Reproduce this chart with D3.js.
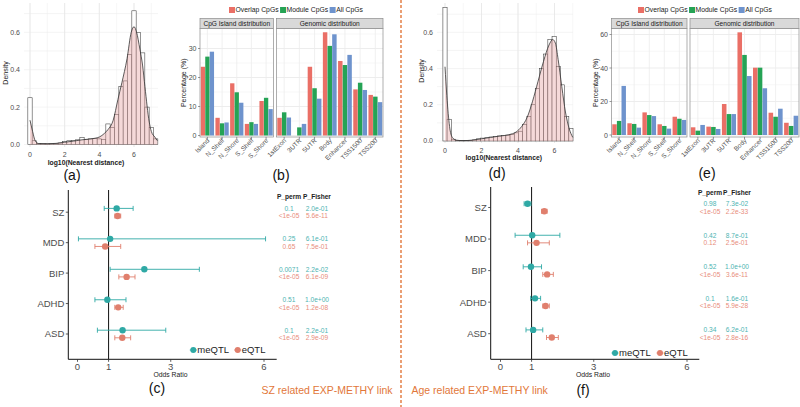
<!DOCTYPE html>
<html><head><meta charset="utf-8">
<script src="https://cdn.jsdelivr.net/npm/d3@7"></script>
<style>body{margin:0;background:#fff;} svg{display:block;font-family:"Liberation Sans",Arial,sans-serif;}</style>
</head><body><svg id="chart" width="800" height="407"></svg>
<script>
// ---------------- DATA ----------------
// (a) histogram of log10(nearest distance), SZ related
const histABinWidth = 0.25;
const histACenters = [0,0.25,0.5,0.75,1,1.25,1.5,1.75,2,2.25,2.5,2.75,3,3.25,3.5,3.75,4,4.25,4.5,4.75,5,5.25,5.5,5.75,6,6.25,6.5,6.75,7,7.25];
const histADensity = [0.25,0.02,0.006,0.005,0.004,0.004,0.005,0.008,0.015,0.02,0.022,0.025,0.037,0.028,0.03,0.032,0.03,0.027,0.11,0.09,0.16,0.31,0.34,0.48,0.715,0.60,0.49,0.20,0.09,0.03];
const kdeAx = [0,0.15,0.3,0.5,1,1.5,2,2.5,3,3.5,4,4.3,4.5,4.8,5.07,5.3,5.6,5.84,6.0,6.15,6.34,6.5,6.63,6.88,7.0,7.2,7.35];
const kdeAy = [0.13,0.07,0.02,0.005,0.004,0.006,0.012,0.018,0.025,0.03,0.04,0.06,0.08,0.13,0.24,0.33,0.46,0.6,0.63,0.6,0.51,0.42,0.31,0.12,0.07,0.04,0.02];
// (d) histogram, Age related
const histDBinWidth = 0.23;
const histDCenters = [0,0.23,0.46,0.69,0.92,1.15,1.38,1.61,1.84,2.07,2.3,2.53,2.76,2.99,3.22,3.45,3.68,3.91,4.14,4.37,4.6,4.83,5.06,5.29,5.52,5.75,5.98,6.21,6.44,6.67,6.9];
const histDDensity = [0.737,0.12,0.01,0.004,0.003,0.003,0.004,0.006,0.012,0.016,0.018,0.022,0.026,0.028,0.03,0.032,0.036,0.045,0.054,0.09,0.136,0.2,0.29,0.40,0.48,0.56,0.576,0.41,0.31,0.136,0.07];
const kdeDx = [0,0.1,0.25,0.4,0.6,1,1.5,2,2.5,3,3.5,3.9,4.2,4.5,4.8,5.1,5.4,5.7,5.9,6.05,6.2,6.4,6.6,6.8,7.0];
const kdeDy = [0.41,0.25,0.08,0.02,0.005,0.002,0.005,0.012,0.02,0.027,0.035,0.05,0.08,0.13,0.22,0.33,0.44,0.53,0.56,0.54,0.45,0.3,0.16,0.07,0.02];
const histTicksX = [0,2,4,6];
const histTicksY = [0,0.2,0.4,0.6];

// (b)/(e) CpG distributions
const islandCats = ["Island","N_Shelf","N_Shore","S_Shelf","S_Shore"];
const genomicCats = ["1stExon","3UTR","5UTR","Body","Enhancer","TSS1500","TSS200"];
const seriesNames = ["Overlap CpGs","Module CpGs","All CpGs"];
const bIslandOverlap = [23.7,6.1,18.0,4.0,11.9];
const bIslandModule  = [27.2,4.2,14.9,4.6,13.0];
const bIslandAll     = [28.9,4.5,11.3,4.0,9.1];
const bGenomicOverlap = [6.1,0,23.7,35.6,25.7,15.9,14.0];
const bGenomicModule  = [8.0,2.8,16.3,30.9,24.3,18.2,13.4];
const bGenomicAll     = [6.2,4.0,12.7,34.9,27.8,15.7,11.5];
const eIslandOverlap = [6.4,7.0,13.5,6.4,10.9];
const eIslandModule  = [8.4,6.6,11.9,5.4,9.7];
const eIslandAll     = [29.3,4.4,11.3,3.8,9.0];
const eGenomicOverlap = [4.6,5.0,18.5,61.3,40.2,13.3,7.3];
const eGenomicModule  = [2.6,4.8,12.5,47.8,40.2,10.9,5.4];
const eGenomicAll     = [6.0,3.6,12.5,35.2,27.9,15.7,11.5];
const bTicks = [0,10,20,30];
const eTicks = [0,20,40,60];

// (c)/(f) odds ratios
const disorders = ["SZ","MDD","BIP","ADHD","ASD"];
const qtlTypes = ["meQTL","eQTL"];
const orTicks = [0,1,3,6];
const cMeOR = [1.26,1.05,2.15,0.96,1.45];
const cMeLo = [0.86,0.03,1.05,0.56,0.64];
const cMeHi = [1.79,6.05,3.92,1.56,2.84];
const cEOR  = [1.29,0.89,1.58,1.31,1.44];
const cELo  = [1.2,0.56,1.33,1.2,1.2];
const cEHi  = [1.39,1.39,1.85,1.47,1.71];
const cMePerm   = ["0.1","0.25","0.0071","0.51","0.1"];
const cMeFisher = ["2.0e-01","6.1e-01","2.2e-02","1.0e+00","2.2e-01"];
const cEPerm    = ["<1e-05","0.65","<1e-05","<1e-05","<1e-05"];
const cEFisher  = ["5.6e-11","7.5e-01","6.1e-09","1.2e-08","2.9e-09"];
const fMeOR = [0.87,1.02,0.98,1.11,1.05];
const fMeLo = [0.76,0.47,0.73,0.97,0.82];
const fMeHi = [0.98,1.91,1.32,1.29,1.36];
const fEOR  = [1.41,1.16,1.5,1.45,1.65];
const fELo  = [1.32,0.87,1.36,1.36,1.48];
const fEHi  = [1.5,1.57,1.7,1.57,1.86];
const fMePerm   = ["0.98","0.42","0.52","0.1","0.34"];
const fMeFisher = ["7.3e-02","8.7e-01","1.0e+00","1.6e-01","6.2e-01"];
const fEPerm    = ["<1e-05","0.12","<1e-05","<1e-05","<1e-05"];
const fEFisher  = ["2.2e-33","2.5e-01","3.6e-11","5.9e-28","2.8e-16"];

// ---------------- STYLE ----------------
const barColors = ["#ea6f66","#25a355","#6e93cd"];
const meCol = "#2fa9a5", eCol = "#e07f6d";
const meTxt = "#4db4b2", eTxt = "#e88d7b";
const orange = "#e2773a";

const svg = d3.select("#chart");

// ---------------- HISTOGRAM PANELS ----------------
function histPanel(cfg){
  const g = svg.append("g");
  const x = d3.scaleLinear().domain([0,6]).range(cfg.xr);
  const y = d3.scaleLinear().domain([0,0.6]).range(cfg.yr);
  const [L,R] = cfg.px, [T,B] = cfg.py;
  // grid
  const minorX = d3.range(-1,9).map(v=>v).filter(v=>x(v)>=L&&x(v)<=R);
  g.selectAll(".gxm").data(minorX).join("line").attr("x1",d=>x(d)).attr("x2",d=>x(d)).attr("y1",T).attr("y2",B)
    .attr("stroke","#f1f1f1").attr("stroke-width",0.6);
  const minorY = d3.range(0,0.8,0.1).filter(v=>y(v)>=T);
  g.selectAll(".gym").data(minorY).join("line").attr("x1",L).attr("x2",R).attr("y1",d=>y(d)).attr("y2",d=>y(d))
    .attr("stroke","#ececec").attr("stroke-width",0.6);
  g.selectAll(".gx").data(histTicksX).join("line").attr("x1",d=>x(d)).attr("x2",d=>x(d)).attr("y1",T).attr("y2",B)
    .attr("stroke","#e6e6e6").attr("stroke-width",0.8);
  // bars
  g.selectAll(".bar").data(cfg.centers).join("rect")
    .attr("x",(d)=>x(d-cfg.bw/2)).attr("width",(d)=>x(d+cfg.bw/2)-x(d-cfg.bw/2))
    .attr("y",(d,i)=>y(cfg.dens[i])).attr("height",(d,i)=>y(0)-y(cfg.dens[i]))
    .attr("fill","#fff").attr("stroke","#3a3a3a").attr("stroke-width",0.55);
  // density
  const pts = cfg.kx.map((v,i)=>[v,cfg.ky[i]]);
  const area = d3.area().x(d=>x(d[0])).y0(y(0)).y1(d=>y(d[1])).curve(d3.curveMonotoneX);
  g.append("path").attr("d",area(pts)).attr("fill","#e49a9a").attr("fill-opacity",0.38);
  const line = d3.line().x(d=>x(d[0])).y(d=>y(d[1])).curve(d3.curveMonotoneX);
  g.append("path").attr("d",line(pts)).attr("fill","none").attr("stroke","#333").attr("stroke-width",0.8);
  // axes labels
  g.selectAll(".tx").data(histTicksX).join("text").attr("x",d=>x(d)).attr("y",cfg.xLabY)
    .attr("text-anchor","middle").attr("font-size",7).attr("fill","#4d4d4d").text(d=>d);
  g.selectAll(".ty").data(histTicksY).join("text").attr("x",L-4).attr("y",d=>y(d)+2.4)
    .attr("text-anchor","end").attr("font-size",7).attr("fill","#4d4d4d").text(d=>d3.format(".1f")(d));
  g.append("text").attr("x",(cfg.xr[0]+cfg.xr[1])/2+4).attr("y",cfg.xLabY+7.5).attr("text-anchor","middle")
    .attr("font-size",6.8).attr("font-weight","bold").attr("fill","#222").text("log10(Nearest distance)");
  g.append("text").attr("transform",`translate(${cfg.yLabX},${(T+B)/2-2}) rotate(-90)`).attr("text-anchor","middle")
    .attr("font-size",7).attr("fill","#222").text("Density");
}
histPanel({xr:[30,134],yr:[144.5,32.3],px:[24,158],py:[3,147],bw:histABinWidth,centers:histACenters,dens:histADensity,kx:kdeAx,ky:kdeAy,xLabY:157,yLabX:8});
histPanel({xr:[445,554.5],yr:[141,32.3],px:[437,573],py:[3,143],bw:histDBinWidth,centers:histDCenters,dens:histDDensity,kx:kdeDx,ky:kdeDy,xLabY:152.5,yLabX:424});

// ---------------- BAR PANELS ----------------
function barFacet(g, cats, vals, xr, y, top, bottom, strip, tickLabels){
  const x = d3.scaleBand().domain(cats).range(xr).paddingInner(0.07).paddingOuter(0.04);
  const xs = d3.scaleBand().domain(seriesNames).range([0,x.bandwidth()]).padding(0.04);
  g.append("rect").attr("x",xr[0]).attr("y",top).attr("width",xr[1]-xr[0]).attr("height",bottom-top).attr("fill","#fff");
  // grid
  const maxV = y.invert(top);
  const step = tickLabels[1]-tickLabels[0];
  const minor = d3.range(step/2, maxV, step);
  g.selectAll(".gm").data(minor).join("line").attr("x1",xr[0]).attr("x2",xr[1]).attr("y1",d=>y(d)).attr("y2",d=>y(d)).attr("stroke","#f2f2f2").attr("stroke-width",0.6);
  g.selectAll(".gM").data(tickLabels).join("line").attr("x1",xr[0]).attr("x2",xr[1]).attr("y1",d=>y(d)).attr("y2",d=>y(d)).attr("stroke","#e8e8e8").attr("stroke-width",0.8);
  g.selectAll(".gv").data(cats).join("line").attr("x1",d=>x(d)+x.bandwidth()/2).attr("x2",d=>x(d)+x.bandwidth()/2).attr("y1",top).attr("y2",bottom).attr("stroke","#ececec").attr("stroke-width",0.8);
  // bars
  seriesNames.forEach((s,si)=>{
    g.selectAll(".b"+si).data(cats).join("rect")
      .attr("x",d=>x(d)+xs(s)).attr("width",xs.bandwidth())
      .attr("y",(d,i)=>y(vals[si][i])).attr("height",(d,i)=>y(0)-y(vals[si][i]))
      .attr("fill",barColors[si]);
  });
  g.append("rect").attr("x",xr[0]).attr("y",top).attr("width",xr[1]-xr[0]).attr("height",bottom-top).attr("fill","none").attr("stroke","#8c8c8c").attr("stroke-width",0.7);
  // strip
  g.append("rect").attr("x",xr[0]).attr("y",top-10).attr("width",xr[1]-xr[0]).attr("height",10).attr("fill","#d9d9d9").attr("stroke","#8c8c8c").attr("stroke-width",0.7);
  g.append("text").attr("x",(xr[0]+xr[1])/2).attr("y",top-2.8).attr("text-anchor","middle").attr("font-size",6.6).attr("fill","#1a1a1a").text(strip);
  // x labels
  g.selectAll(".xl").data(cats).join("text")
    .attr("transform",d=>`translate(${x(d)+x.bandwidth()/2+2.5},${bottom+4}) rotate(-45)`)
    .attr("text-anchor","end").attr("font-size",6.5).attr("fill","#4d4d4d").text(d=>d);
  g.selectAll(".xt").data(cats).join("line").attr("x1",d=>x(d)+x.bandwidth()/2).attr("x2",d=>x(d)+x.bandwidth()/2).attr("y1",bottom).attr("y2",bottom+2).attr("stroke","#555").attr("stroke-width",0.6);
}
function barChart(cfg){
  const g = svg.append("g");
  const y = d3.scaleLinear().domain([0,cfg.ticks[cfg.ticks.length-1]]).range(cfg.yr);
  barFacet(g, islandCats, cfg.island, cfg.leftX, y, cfg.top, cfg.bottom, "CpG Island distribution", cfg.ticks);
  barFacet(g, genomicCats, cfg.genomic, cfg.rightX, y, cfg.top, cfg.bottom, "Genomic distribution", cfg.ticks);
  g.selectAll(".yt").data(cfg.ticks).join("text").attr("x",cfg.leftX[0]-3.5).attr("y",d=>y(d)+2.5)
    .attr("text-anchor","end").attr("font-size",7).attr("fill","#4d4d4d").text(d=>d);
  g.selectAll(".ytk").data(cfg.ticks).join("line").attr("x1",cfg.leftX[0]-2).attr("x2",cfg.leftX[0]).attr("y1",d=>y(d)).attr("y2",d=>y(d)).attr("stroke","#555").attr("stroke-width",0.6);
  g.append("text").attr("transform",`translate(${cfg.yLabX},${(cfg.top+cfg.bottom)/2}) rotate(-90)`).attr("text-anchor","middle")
    .attr("font-size",7).attr("fill","#222").text("Percentage (%)");
  // legend
  let lx = cfg.legX;
  seriesNames.forEach((s,i)=>{
    g.append("rect").attr("x",lx).attr("y",cfg.legY-3).attr("width",6).attr("height",6).attr("fill",barColors[i]);
    const t = g.append("text").attr("x",lx+6.5).attr("y",cfg.legY+2.4).attr("font-size",6.8).attr("fill","#222").text(s);
    lx += 6.5 + t.node().getComputedTextLength() + 1.5;
  });
}
barChart({island:[bIslandOverlap,bIslandModule,bIslandAll],genomic:[bGenomicOverlap,bGenomicModule,bGenomicAll],
  ticks:bTicks,yr:[135.5,48.5],leftX:[200,273.5],rightX:[276.5,383],top:28.5,bottom:137,yLabX:186,legX:229,legY:10});
barChart({island:[eIslandOverlap,eIslandModule,eIslandAll],genomic:[eGenomicOverlap,eGenomicModule,eGenomicAll],
  ticks:eTicks,yr:[135,34.5],leftX:[611.5,687],rightX:[690,799],top:28.5,bottom:137,yLabX:598,legX:638,legY:10});

// ---------------- FOREST PANELS ----------------
function forest(cfg){
  const g = svg.append("g");
  const x = d3.scaleLinear().domain([0,6]).range(cfg.xr);
  const y = d3.scalePoint().domain(disorders).range(cfg.yr);
  const off = 3.8;
  // reference line at OR=1
  g.append("line").attr("x1",x(1)).attr("x2",x(1)).attr("y1",cfg.top).attr("y2",cfg.axisY).attr("stroke","#111").attr("stroke-width",1);
  const series = [
    {name:"meQTL",or:cfg.meOR,lo:cfg.meLo,hi:cfg.meHi,col:meCol,dy:-off},
    {name:"eQTL",or:cfg.eOR,lo:cfg.eLo,hi:cfg.eHi,col:eCol,dy:off}];
  series.forEach(s=>{
    const gg = g.append("g");
    gg.selectAll(".eb").data(disorders).join("line").attr("x1",(d,i)=>x(s.lo[i])).attr("x2",(d,i)=>x(s.hi[i]))
      .attr("y1",d=>y(d)+s.dy).attr("y2",d=>y(d)+s.dy).attr("stroke",s.col).attr("stroke-width",0.9);
    ["lo","hi"].forEach(k=>{
      gg.selectAll(".cap"+k).data(disorders).join("line").attr("x1",(d,i)=>x(s[k][i])).attr("x2",(d,i)=>x(s[k][i]))
        .attr("y1",d=>y(d)+s.dy-2.5).attr("y2",d=>y(d)+s.dy+2.5).attr("stroke",s.col).attr("stroke-width",0.9);
    });
    gg.selectAll(".pt").data(disorders).join("circle").attr("cx",(d,i)=>x(s.or[i])).attr("cy",d=>y(d)+s.dy)
      .attr("r",3.2).attr("fill",s.col);
  });
  // axes
  g.append("line").attr("x1",cfg.axisX).attr("x2",cfg.axisX).attr("y1",cfg.top).attr("y2",cfg.axisY).attr("stroke","#111").attr("stroke-width",1);
  g.append("line").attr("x1",cfg.axisX).attr("x2",cfg.axisR).attr("y1",cfg.axisY).attr("y2",cfg.axisY).attr("stroke","#111").attr("stroke-width",1);
  g.selectAll(".xt").data(orTicks).join("line").attr("x1",d=>x(d)).attr("x2",d=>x(d)).attr("y1",cfg.axisY).attr("y2",cfg.axisY+2.5).attr("stroke","#333").attr("stroke-width",0.8);
  g.selectAll(".xl").data(orTicks).join("text").attr("x",d=>x(d)).attr("y",cfg.axisY+11).attr("text-anchor","middle")
    .attr("font-size",9.5).attr("fill","#4d4d4d").text(d=>d);
  g.append("text").attr("x",(cfg.axisX+cfg.axisR)/2-2).attr("y",cfg.axisY+17.5).attr("text-anchor","middle")
    .attr("font-size",6.8).attr("fill","#222").text("Odds Ratio");
  g.selectAll(".yt").data(disorders).join("line").attr("x1",cfg.axisX-2.5).attr("x2",cfg.axisX).attr("y1",d=>y(d)).attr("y2",d=>y(d)).attr("stroke","#333").attr("stroke-width",0.8);
  g.selectAll(".yl").data(disorders).join("text").attr("x",cfg.axisX-4).attr("y",d=>y(d)+3.4).attr("text-anchor","end")
    .attr("font-size",9.5).attr("fill","#4d4d4d").text(d=>d);
  // legend
  const lg = [{n:qtlTypes[0],c:meCol,x:cfg.legX[0]},{n:qtlTypes[1],c:eCol,x:cfg.legX[1]}];
  lg.forEach(l=>{
    g.append("line").attr("x1",l.x-3.5).attr("x2",l.x+3.5).attr("y1",cfg.legY).attr("y2",cfg.legY).attr("stroke",l.c).attr("stroke-width",0.9);
    g.append("circle").attr("cx",l.x).attr("cy",cfg.legY).attr("r",3).attr("fill",l.c);
    g.append("text").attr("x",l.x+4).attr("y",cfg.legY+3.4).attr("font-size",9.5).attr("fill","#222").text(l.n);
  });
  // p-value table
  g.append("text").attr("x",cfg.tab[0]).attr("y",cfg.headY+2.3).attr("text-anchor","middle").attr("font-size",6.6).attr("fill","#222").attr("font-weight","bold").text("P_perm");
  g.append("text").attr("x",cfg.tab[1]).attr("y",cfg.headY+2.3).attr("text-anchor","middle").attr("font-size",6.6).attr("fill","#222").attr("font-weight","bold").text("P_Fisher");
  const rows = [{p:cfg.mePerm,f:cfg.meFisher,c:meTxt,dy:-off},{p:cfg.ePerm,f:cfg.eFisher,c:eTxt,dy:off}];
  rows.forEach(r=>{
    g.selectAll(null).data(disorders).join("text").attr("x",cfg.tab[0]).attr("y",d=>y(d)+r.dy+2.3).attr("text-anchor","middle")
      .attr("font-size",6.6).attr("fill",r.c).text((d,i)=>r.p[i]);
    g.selectAll(null).data(disorders).join("text").attr("x",cfg.tab[1]).attr("y",d=>y(d)+r.dy+2.3).attr("text-anchor","middle")
      .attr("font-size",6.6).attr("fill",r.c).text((d,i)=>r.f[i]);
  });
}
forest({xr:[77.5,264],yr:[212.2,334],top:190,axisY:359.3,axisX:68.3,axisR:276.7,
  meOR:cMeOR,meLo:cMeLo,meHi:cMeHi,eOR:cEOR,eLo:cELo,eHi:cEHi,
  mePerm:cMePerm,meFisher:cMeFisher,ePerm:cEPerm,eFisher:cEFisher,
  legX:[193.3,237.7],legY:350,tab:[289,317],headY:197});
forest({xr:[500.5,687],yr:[207.5,333.7],top:187,axisY:359.3,axisX:490.7,axisR:699.3,
  meOR:fMeOR,meLo:fMeLo,meHi:fMeHi,eOR:fEOR,eLo:fELo,eHi:fEHi,
  mePerm:fMePerm,meFisher:fMeFisher,ePerm:fEPerm,eFisher:fEFisher,
  legX:[615,660],legY:353,tab:[710,737],headY:192.7});

// ---------------- LABELS ----------------
const panelLabels = [["(a)",72,180],["(b)",281,180],["(c)",157,393],["(d)",497,178.3],["(e)",707,178.3],["(f)",583,395]];
svg.selectAll(".pl").data(panelLabels).join("text").attr("x",d=>d[1]).attr("y",d=>d[2]).attr("text-anchor","middle")
  .attr("font-size",14).attr("fill","#111").text(d=>d[0]);
svg.append("text").attr("x",261.5).attr("y",394).attr("font-size",10.5).attr("fill",orange).text("SZ related EXP-METHY link");
svg.append("text").attr("x",411.5).attr("y",394).attr("font-size",10.5).attr("fill",orange).text("Age related EXP-METHY link");
svg.append("line").attr("x1",401).attr("x2",401).attr("y1",0).attr("y2",407).attr("stroke",orange).attr("stroke-width",1.4).attr("stroke-dasharray","3,2");
</script></body></html>
